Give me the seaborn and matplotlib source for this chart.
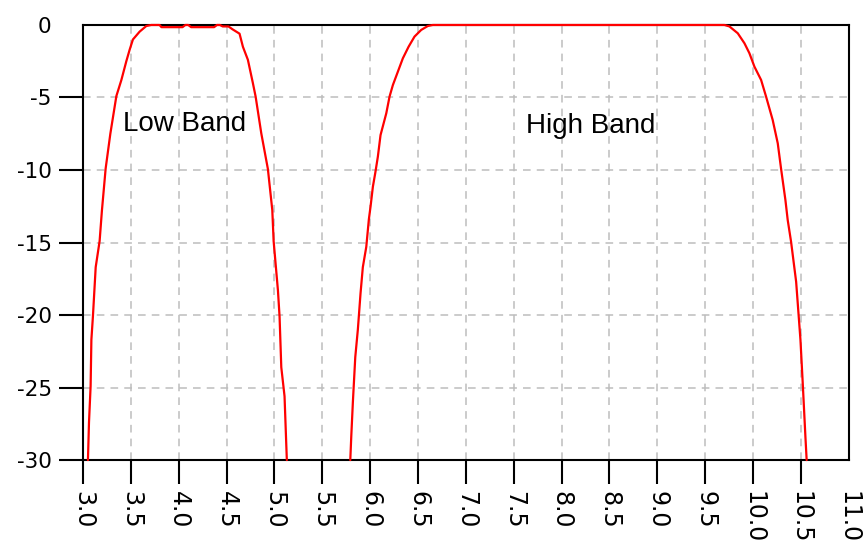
import numpy as np
import pandas as pd
import matplotlib
matplotlib.use("Agg")
import matplotlib.pyplot as plt
import seaborn as sns

# ---- data ----
low_x = [3.052, 3.063, 3.080, 3.088, 3.104, 3.133, 3.174, 3.198, 3.237, 3.286,
         3.349, 3.401, 3.453, 3.488, 3.522, 3.592, 3.662, 3.714, 3.80, 3.82,
         4.04, 4.07, 4.10, 4.13, 4.37, 4.40, 4.43, 4.46, 4.52, 4.563,
         4.636, 4.671, 4.723, 4.775, 4.804, 4.863, 4.932, 4.978, 4.992, 5.037,
         5.054, 5.072, 5.106, 5.130]
low_y = [-30, -27.4, -24.9, -21.7, -20.1, -16.7, -14.9, -12.8, -9.9, -7.5,
         -4.9, -3.8, -2.5, -1.7, -1.0, -0.46, -0.07, 0, 0, -0.15,
         -0.15, 0, 0, -0.15, -0.15, 0, 0, -0.1, -0.1, -0.3,
         -0.6, -1.5, -2.4, -4.0, -4.94, -7.47, -9.93, -12.76, -14.9, -18.3,
         -20.1, -23.6, -25.6, -30]

high_x = [5.793, 5.803, 5.820, 5.845, 5.872, 5.900, 5.924, 5.960, 5.987, 6.005,
          6.029, 6.054, 6.081, 6.109, 6.169, 6.203, 6.238, 6.290, 6.342, 6.402,
          6.464, 6.534, 6.603, 6.655, 9.702, 9.754, 9.841, 9.911, 9.963, 10.015,
          10.085, 10.137, 10.206, 10.259, 10.294, 10.339, 10.363, 10.398, 10.426, 10.451,
          10.478, 10.496, 10.520, 10.548, 10.561]
high_y = [-30, -28.4, -26.0, -22.9, -21.0, -18.5, -16.7, -15.3, -13.4, -12.5,
          -11.15, -10.2, -9.08, -7.59, -6.09, -4.94, -4.14, -3.22, -2.3, -1.5,
          -0.8, -0.34, -0.07, 0, 0, -0.1, -0.57, -1.26, -1.95, -2.87,
          -3.79, -4.94, -6.55, -8.16, -9.93, -12.07, -13.45, -14.94, -16.4, -17.7,
          -20.1, -21.7, -24.7, -28.4, -30]

x_ticks = [3.0, 3.5, 4.0, 4.5, 5.0, 5.5, 6.0, 6.5, 7.0, 7.5, 8.0, 8.5, 9.0,
           9.5, 10.0, 10.5, 11.0]
y_ticks = [-30, -25, -20, -15, -10, -5, 0]
x_labels = ["%.1f" % v for v in x_ticks]
y_labels = ["%d" % v for v in y_ticks]

band_labels = ["Low Band", "High Band"]

# ---- plot ----
sns.set_style("white")
fig = plt.figure(figsize=(8.66, 5.49), dpi=100)
ax = fig.add_axes([0.0958, 0.162, 0.8842, 0.7925])

low_df = pd.DataFrame({"x": low_x, "y": low_y})
high_df = pd.DataFrame({"x": high_x, "y": high_y})
for df in (low_df, high_df):
    sns.lineplot(data=df, x="x", y="y", ax=ax, color="#ff0000", linewidth=1.6,
                 sort=False, estimator=None, clip_on=False, zorder=3)

ax.set_xlim(3.0, 11.0)
ax.set_ylim(-30, 0)
ax.set_xticks(x_ticks)
ax.set_xticklabels(x_labels, rotation=270, fontsize=17, family="DejaVu Sans",
                   va="top", ha="center", color="black")
ax.set_yticks(y_ticks)
ax.set_yticklabels(y_labels, fontsize=15.5, family="DejaVu Sans", color="black")
ax.set_xlabel("")
ax.set_ylabel("")

ax.tick_params(axis="x", bottom=True, direction="out", length=17.5, width=1.5,
               color="black", pad=4.5, labelcolor="black")
ax.tick_params(axis="y", left=True, direction="out", length=17, width=1.5,
               color="black", pad=5.5, labelcolor="black")
ax.xaxis.get_major_ticks()[-1].tick1line.set_visible(False)
ax.yaxis.get_major_ticks()[-1].tick1line.set_visible(False)

ax.grid(True, color="#bdbdbd", linestyle=(0, (5, 4)), linewidth=1.1)
for sp in ax.spines.values():
    sp.set_visible(True)
    sp.set_color("black")
    sp.set_linewidth(1.5)

ax.text(3.418, -7.31, band_labels[0], fontsize=20, family="Liberation Sans",
        ha="left", va="baseline", color="black")
ax.text(7.631, -7.45, band_labels[1], fontsize=20, family="Liberation Sans",
        ha="left", va="baseline", color="black")

fig.savefig("out.png", dpi=100)
